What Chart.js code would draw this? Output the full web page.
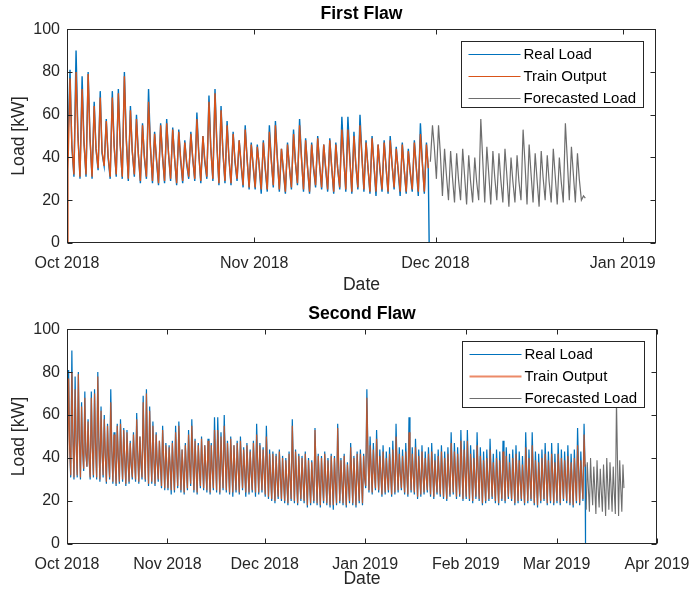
<!DOCTYPE html>
<html>
<head>
<meta charset="utf-8">
<script src="https://cdn.jsdelivr.net/npm/chart.js@4.4.1/dist/chart.umd.min.js"></script>
<style>
  html, body { margin: 0; padding: 0; background: #fff; }
  .plot { position: absolute; left: 0; width: 693px; }
  #top { top: 0; height: 300px; }
  #bottom { top: 300px; height: 299px; }
</style>
</head>
<body>
<div class="plot" id="top"><canvas id="chart-first"></canvas></div>
<div class="plot" id="bottom"><canvas id="chart-second"></canvas></div>
<script>
// days are counted from 1 Oct 2018; each day is read as a night trough,
// a daytime peak and an evening shoulder (kW)
const firstTicks  = [0, 31, 61, 92]
const firstLabels = ['Oct 2018', 'Nov 2018', 'Dec 2018', 'Jan 2019']
const secondTicks  = [0, 31, 61, 92, 123, 151, 182]
const secondLabels = ['Oct 2018', 'Nov 2018', 'Dec 2018', 'Jan 2019', 'Feb 2019', 'Mar 2019', 'Apr 2019']

const realStart = 33
const trainStart = 0
const dropout = 0

const realPeaks = [
  81, 90, 78, 80, 66, 71, 58, 71, 72, 80, 64, 60, 56, 72, 52, 56, 58, 54, 53, 48, 52, 61, 50, 69, 72, 64, 57, 52, 48, 55, 47,
  46, 48, 55, 57, 44, 47, 53, 58, 49, 47, 50, 46, 49, 47, 59, 59, 52, 60, 48, 50, 46, 48, 50, 45, 47, 44, 48, 56, 47, 45,
  55, 44, 43, 42, 44, 41, 40, 43, 58, 44, 42, 41, 43, 40, 39, 54, 42, 41, 43, 40, 42, 41, 56, 40, 42, 38, 47, 41, 43, 44, 42,
  72, 50, 47, 53, 44, 46, 43, 45, 48, 56, 45, 44, 47, 59, 45, 49, 44, 46, 43, 45, 47, 42, 44, 46, 43, 45, 52, 47, 45, 53, 48,
  53, 46, 44, 52, 45, 43, 44, 49, 42, 44, 43, 48, 45, 42, 44, 46, 43, 41, 52, 44, 52, 43, 42, 44, 47, 43, 47, 42,
  47, 44, 43, 46, 42, 44, 54, 43, 56,
]
const realShoulders = [
  45, 52, 48, 50, 44, 42, 40, 46, 47, 50, 43, 42, 40, 46, 39, 41, 42, 40, 39, 37, 40, 43, 38, 45, 47, 43, 40, 38, 37, 40, 36,
  36, 35, 40, 41, 34, 36, 38, 41, 36, 35, 37, 35, 36, 35, 41, 41, 37, 42, 36, 37, 34, 36, 37, 34, 35, 33, 36, 39, 35, 34,
  38, 32, 31, 30, 32, 30, 29, 31, 38, 31, 30, 30, 31, 29, 28, 36, 30, 29, 31, 29, 30, 29, 37, 29, 30, 28, 33, 30, 31, 32, 31,
  45, 36, 34, 37, 33, 34, 32, 33, 35, 38, 33, 33, 34, 39, 33, 35, 32, 33, 32, 33, 34, 31, 32, 33, 31, 32, 36, 34, 32, 37, 34,
  36, 33, 31, 35, 32, 30, 31, 34, 30, 31, 30, 33, 32, 30, 31, 33, 30, 29, 35, 31, 35, 30, 29, 31, 33, 30, 33, 30,
  33, 31, 31, 32, 30, 31, 36, 30, 37,
]
const realLows = [
  33, 31, 30, 31, 30, 34, 36, 30, 31, 30, 29, 31, 28, 30, 28, 27, 28, 29, 27, 28, 30, 29, 28, 30, 29, 27, 28, 27, 29, 26, 25,
  25, 23, 24, 26, 24, 23, 25, 27, 24, 23, 26, 25, 24, 23, 25, 24, 23, 25, 24, 23, 22, 24, 23, 25, 22, 23, 24, 22, 23, 24,
  22, 21, 20, 19, 21, 20, 19, 18, 20, 19, 18, 20, 19, 17, 18, 19, 18, 17, 19, 18, 17, 16, 18, 19, 18, 17, 19, 18, 17, 19, 18,
  26, 24, 23, 25, 24, 22, 23, 24, 22, 23, 24, 25, 23, 22, 24, 23, 21, 22, 23, 24, 22, 21, 23, 22, 21, 20, 22, 23, 21, 22, 20,
  21, 20, 19, 21, 20, 18, 19, 20, 21, 19, 18, 20, 19, 21, 20, 18, 19, 20, 18, 19, 20, 18, 17, 19, 20, 18, 19, 18,
  19, 18, 20, 19, 18, 17, 19, 18, 20,
]
const trainPeaks = [
  77, 80, 72, 79, 64, 68, 57, 68, 70, 78, 62, 58, 55, 66, 51, 55, 56, 53, 52, 47, 51, 58, 50, 66, 70, 62, 55, 51, 48, 53, 46,
  45, 47, 52, 55, 44, 46, 51, 55, 48, 46, 49, 46, 48, 46, 53, 53, 50, 55, 47, 49, 46, 47, 48, 44, 46, 43, 47, 51, 46, 44,
  50, 42, 42, 41, 43, 40, 39, 42, 55, 43, 41, 40, 42, 39, 38, 53, 41, 40, 42, 39, 41, 40, 54, 39, 41, 37, 45, 40, 42, 42, 41,
  68, 46, 44, 49, 41, 43, 40, 42, 44, 50, 42, 41, 43, 52, 42, 45, 41, 43, 40, 42, 43, 39, 41, 43, 40, 42, 47, 43, 42, 48, 44,
  48, 42, 40, 46, 41, 39, 40, 44, 38, 40, 39, 43, 41, 38, 40, 42, 39, 37, 45, 40, 46, 39, 38, 40, 42, 39, 42, 38,
  42, 40, 39, 41, 38, 40, 46, 39, 51,
]
const trainShoulders = [
  46, 50, 47, 49, 44, 43, 41, 45, 46, 49, 43, 42, 41, 45, 40, 41, 42, 40, 40, 38, 40, 42, 39, 44, 46, 43, 40, 39, 38, 40, 37,
  37, 36, 39, 40, 35, 36, 38, 40, 36, 36, 37, 36, 36, 35, 40, 40, 37, 41, 36, 37, 35, 36, 37, 35, 35, 34, 36, 38, 35, 35,
  37, 32, 31, 31, 32, 30, 30, 31, 37, 31, 30, 30, 31, 29, 29, 35, 30, 30, 31, 29, 30, 29, 36, 29, 30, 29, 33, 30, 31, 32, 31,
  44, 36, 34, 36, 33, 34, 32, 33, 35, 37, 33, 33, 34, 38, 33, 35, 32, 33, 32, 33, 34, 31, 32, 33, 31, 32, 35, 34, 32, 36, 34,
  35, 33, 31, 35, 32, 30, 31, 34, 30, 31, 30, 33, 32, 30, 31, 33, 30, 29, 34, 31, 34, 30, 29, 31, 33, 30, 33, 30,
  33, 31, 31, 32, 30, 31, 35, 30, 36,
]
const trainLows = [
  34, 32, 31, 32, 31, 35, 36, 31, 32, 31, 30, 32, 29, 31, 29, 28, 29, 30, 28, 29, 31, 30, 29, 31, 30, 28, 29, 28, 30, 27, 26,
  26, 25, 25, 27, 25, 24, 26, 28, 25, 24, 27, 26, 25, 24, 26, 25, 24, 26, 25, 24, 24, 25, 24, 26, 24, 24, 25, 24, 24, 25,
  23, 22, 21, 20, 22, 21, 20, 19, 21, 20, 19, 21, 20, 18, 19, 20, 19, 18, 20, 19, 18, 18, 19, 20, 19, 18, 20, 19, 18, 20, 19,
  27, 25, 24, 26, 25, 23, 24, 25, 23, 24, 25, 26, 24, 23, 25, 24, 22, 23, 24, 25, 23, 22, 24, 23, 22, 21, 23, 24, 22, 23, 21,
  22, 21, 20, 22, 21, 19, 20, 21, 22, 20, 19, 21, 20, 22, 21, 19, 20, 21, 19, 20, 21, 19, 18, 20, 21, 19, 20, 19,
  20, 19, 21, 20, 19, 18, 20, 19, 21,
]

// first flaw: real data ends 30 Nov, forecast 30 Nov - 25 Dec
const firstRealDays = 60
const forecast1Peaks     = [55, 55, 44, 43, 42, 44, 41, 40, 58, 45, 43, 42, 44, 40, 41, 53, 46, 42, 43, 41, 44, 40, 56, 45, 42, 22]
const forecast1Shoulders = [45, 42, 32, 31, 30, 32, 29, 29, 40, 33, 31, 30, 32, 29, 29, 38, 33, 30, 31, 29, 32, 29, 40, 33, 30, 21]
const forecast1Lows      = [38, 30, 22, 20, 19, 20, 18, 19, 20, 19, 18, 20, 19, 17, 19, 20, 18, 19, 17, 20, 19, 18, 19, 20, 19, 20]

// second flaw: real data ends 9 Mar, forecast 10 - 21 Mar
const secondRealDays = 160
const forecast2Peaks     = [38, 40, 36, 39, 35, 37, 40, 38, 36, 67, 39, 37]
const forecast2Shoulders = [27, 28, 26, 27, 25, 26, 28, 27, 25, 40, 27, 26]
const forecast2Lows      = [16, 15, 18, 14, 17, 15, 13, 16, 15, 14, 13, 15]

const AXIS = '#262626'
Chart.defaults.font.family = "'Liberation Sans', Arial, Helvetica, sans-serif"
Chart.defaults.animation = false

function dayline(startDay, days, lows, peaks, shoulders, head, tail) {
  const pts = []
  if (head != null) pts.push({ x: startDay, y: head })
  for (let i = 0; i < days; i++) {
    pts.push({ x: startDay + i + 0.15, y: lows[i] })
    pts.push({ x: startDay + i + 0.5, y: peaks[i] })
    pts.push({ x: startDay + i + 0.8, y: shoulders[i] })
  }
  if (tail != null) pts.push({ x: startDay + days - 0.05, y: tail })
  return pts
}

function line(label, color, data, width, order) {
  return {
    label, data, order,
    borderColor: color,
    borderWidth: width,
    pointRadius: 0,
    tension: 0,
    fill: false,
  }
}

// MATLAB-like box with inward ticks, plus the boxed legend
const matlabBox = {
  id: 'matlabBox',
  afterDraw(chart) {
    const { ctx, chartArea: a, scales: { x, y } } = chart
    const L = Math.round(a.left) + 0.5, R = Math.round(a.right) - 0.5
    const T = Math.round(a.top) + 0.5, B = Math.round(a.bottom) - 0.5
    ctx.save()
    ctx.strokeStyle = AXIS
    ctx.lineWidth = 1
    ctx.beginPath()
    for (const t of x.ticks) {
      const px = Math.round(x.getPixelForValue(t.value)) + 0.5
      ctx.moveTo(px, B); ctx.lineTo(px, B - 5)
      ctx.moveTo(px, T); ctx.lineTo(px, T + 5)
    }
    for (const t of y.ticks) {
      const py = Math.round(y.getPixelForValue(t.value)) + 0.5
      ctx.moveTo(L, py); ctx.lineTo(L + 5, py)
      ctx.moveTo(R, py); ctx.lineTo(R - 5, py)
    }
    ctx.stroke()
    ctx.strokeRect(L, T, R - L, B - T)

    // legend
    const w = 182, h = 66
    const lx = Math.round(a.right - 13 - w) + 0.5, ly = Math.round(a.top + 12) + 0.5
    ctx.fillStyle = '#fff'
    ctx.fillRect(lx, ly, w, h)
    ctx.strokeStyle = AXIS
    ctx.strokeRect(lx, ly, w, h)
    ctx.font = "15px 'Liberation Sans', Arial, sans-serif"
    ctx.textBaseline = 'middle'
    const items = chart.data.datasets.slice().sort((p, q) => q.order - p.order)
    items.forEach((ds, i) => {
      const ry = Math.round(ly + 12 + i * 22) + 0.5
      ctx.strokeStyle = ds.legendColor || ds.borderColor
      ctx.lineWidth = ds.legendWidth || 1
      ctx.beginPath(); ctx.moveTo(lx + 7, ry); ctx.lineTo(lx + 59, ry); ctx.stroke()
      ctx.fillStyle = '#000'
      ctx.fillText(ds.label, lx + 62, ry)
    })
    ctx.restore()
  },
}

function makeChart(id, o) {
  return new Chart(document.getElementById(id), {
    type: 'line',
    data: { datasets: o.datasets },
    plugins: [matlabBox],
    options: {
      responsive: true,
      maintainAspectRatio: false,
      layout: { padding: { left: 0, right: o.rightPad, top: 0, bottom: 0 } },
      plugins: {
        legend: { display: false },
        tooltip: { enabled: false },
        title: {
          display: true, text: o.title, fullSize: false, color: '#000',
          font: { size: 17.6, weight: 'bold' }, padding: { top: 4, bottom: 4 },
        },
      },
      scales: {
        x: {
          type: 'linear', min: 0, max: o.maxDay,
          afterBuildTicks: s => { s.ticks = o.ticks.map(v => ({ value: v })) },
          afterFit: s => { s.height = o.xHeight; s.paddingLeft = 0; s.paddingRight = 0 },
          grid: { display: false, drawTicks: false },
          border: { display: false },
          ticks: {
            color: AXIS, font: { size: 16 }, padding: 11, maxRotation: 0, autoSkip: false,
            callback: (v, i) => o.labels[i],
          },
          title: {
            display: true, text: 'Date', color: AXIS, font: { size: 17.6 },
            padding: { top: 0, bottom: o.datePad },
          },
        },
        y: {
          min: 0, max: 100,
          afterFit: s => { s.width = 67 },
          grid: { display: false, drawTicks: false },
          border: { display: false },
          ticks: { color: AXIS, font: { size: 16 }, padding: 7, stepSize: 20 },
          title: {
            display: true, text: 'Load [kW]', color: AXIS, font: { size: 17.6 },
            padding: { top: 9, bottom: 0 },
          },
        },
      },
    },
  })
}

makeChart('chart-first', {
  title: 'First Flaw', maxDay: 97.5, ticks: firstTicks, labels: firstLabels,
  rightPad: 37, xHeight: 57, datePad: 4,
  datasets: [
    line('Real Load', '#0072BD',
      dayline(0, firstRealDays, realLows, realPeaks, realShoulders, realStart, dropout), 1.4, 3),
    line('Train Output', '#D95319',
      dayline(0, firstRealDays, trainLows, trainPeaks, trainShoulders, trainStart), 1.4, 2),
    line('Forecasted Load', '#6E6E6E',
      dayline(firstRealDays, forecast1Peaks.length, forecast1Lows, forecast1Peaks, forecast1Shoulders), 1.2, 1),
  ],
})

const second = makeChart('chart-second', {
  title: 'Second Flaw', maxDay: 182, ticks: secondTicks, labels: secondLabels,
  rightPad: 36, xHeight: 55, datePad: 9,
  datasets: [
    line('Real Load', '#0072BD',
      dayline(0, secondRealDays, realLows, realPeaks, realShoulders, realStart, dropout), 1.2, 3),
    line('Train Output', 'rgba(217,83,25,0.85)',
      dayline(0, secondRealDays, trainLows, trainPeaks, trainShoulders, trainStart), 1.2, 2),
    line('Forecasted Load', '#6E6E6E',
      dayline(secondRealDays, forecast2Peaks.length, forecast2Lows, forecast2Peaks, forecast2Shoulders), 1.1, 1),
  ],
})
second.data.datasets[1].legendColor = '#EC8A68'
second.data.datasets[1].legendWidth = 2
second.update()
</script>
</body>
</html>
